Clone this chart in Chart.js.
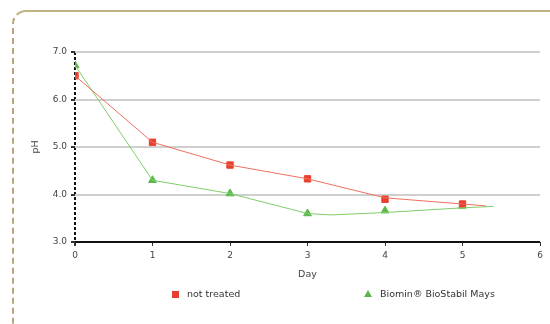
<!DOCTYPE html>
<html>
<head>
<meta charset="utf-8">
<script src="https://cdn.jsdelivr.net/npm/chart.js@4"></script>
<style>
  body { margin: 0; background: #fff; }
  #wrap { position: relative; width: 550px; height: 324px; overflow: hidden; }
  #frame {
    position: absolute; left: 12px; top: 10px; width: 600px; height: 340px;
    border-top: 2px solid #c2b185; border-left: 2px dashed #b9a77a;
    border-top-left-radius: 14px;
  }
  #chart { position: absolute; left: 0; top: 0; }
  .leg { position: absolute; top: 288px; font: 9.5px "DejaVu Sans", sans-serif; color: #333; white-space: nowrap; }
  .sq { display: inline-block; width: 7px; height: 7px; background: #e8402e; margin-right: 8px; vertical-align: -1px; }
  .tri { display: inline-block; width: 0; height: 0; border-left: 4px solid transparent; border-right: 4px solid transparent;
         border-bottom: 7px solid #5cb84a; margin-right: 8px; vertical-align: 0px; }
</style>
</head>
<body>
<div id="wrap">
  <div id="frame"></div>
  <canvas id="chart" width="550" height="324"></canvas>
  <div class="leg" style="left:172px"><span class="sq"></span>not treated</div>
  <div class="leg" style="left:364px"><span class="tri"></span>Biomin® BioStabil Mays</div>
</div>
<script>
const days = [0, 1, 2, 3, 4, 5];
const notTreated = [6.5, 5.1, 4.62, 4.33, 3.9, 3.8];
const biomin = [6.72, 4.3, 4.02, 3.6, 3.66, 3.76];
// trend lines (they run a bit past day 5)
const trendNotTreatedX = [0, 1, 2, 3, 4, 5, 5.3];
const trendNotTreatedY = [6.5, 5.1, 4.62, 4.33, 3.93, 3.8, 3.76];
const trendBiominX = [0, 1, 2, 3, 3.3, 4, 5, 5.4];
const trendBiominY = [6.72, 4.3, 4.02, 3.6, 3.57, 3.62, 3.72, 3.75];
const yTicks = [3, 4, 5, 6, 7];

const red = '#e8402e';
const green = '#5cb84a';

const pts = (xs, ys) => xs.map((x, i) => ({ x: x, y: ys[i] }));

new Chart(document.getElementById('chart').getContext('2d'), {
  type: 'scatter',
  data: {
    datasets: [
      { data: pts(trendNotTreatedX, trendNotTreatedY), showLine: true, borderColor: '#f07060', borderWidth: 1, pointRadius: 0 },
      { data: pts(trendBiominX, trendBiominY), showLine: true, borderColor: '#7fcf6a', borderWidth: 1, pointRadius: 0 },
      { data: pts(days, notTreated), pointStyle: 'rect', pointRadius: 4.5, backgroundColor: red, borderColor: red },
      { data: pts(days, biomin), pointStyle: 'triangle', pointRadius: 4.5, backgroundColor: green, borderColor: green }
    ]
  },
  options: {
    responsive: false,
    animation: false,
    layout: { padding: { left: 30, right: 10, top: 52, bottom: 40 } },
    plugins: { legend: { display: false }, tooltip: { enabled: false } },
    scales: {
      x: {
        type: 'linear', min: 0, max: 6,
        afterFit: (s) => { s.height = 42; },
        ticks: { stepSize: 1, color: '#444', font: { family: 'DejaVu Sans', size: 9 }, padding: 4 },
        // the y axis line is drawn as the dashed x grid line at day 0
        grid: {
          drawTicks: true, tickLength: 4, tickColor: '#333', tickBorderDash: [],
          color: (c) => c.tick && c.tick.value === 0 ? '#111' : 'rgba(0,0,0,0)',
          lineWidth: (c) => c.tick && c.tick.value === 0 ? 2 : 1
        },
        border: { display: false, dash: [3, 2] },
        title: { display: true, text: 'Day', color: '#444', font: { family: 'DejaVu Sans', size: 9.5 }, padding: { top: 2 } }
      },
      y: {
        min: 3, max: 7,
        afterFit: (s) => { s.width = 45; },
        afterBuildTicks: (s) => { s.ticks = yTicks.map(v => ({ value: v })); },
        ticks: { color: '#444', font: { family: 'DejaVu Sans', size: 9 }, padding: 4, callback: (v) => v.toFixed(1) },
        // the x axis line is the black grid line at pH 3
        grid: {
          tickLength: 4, tickColor: '#333',
          color: (c) => c.tick && c.tick.value === 3 ? '#111' : '#cfcfcf',
          lineWidth: 2
        },
        border: { display: false },
        title: { display: true, text: 'pH', color: '#444', font: { family: 'DejaVu Sans', size: 9.5 }, padding: 0 }
      }
    }
  }
});
</script>
</body>
</html>
